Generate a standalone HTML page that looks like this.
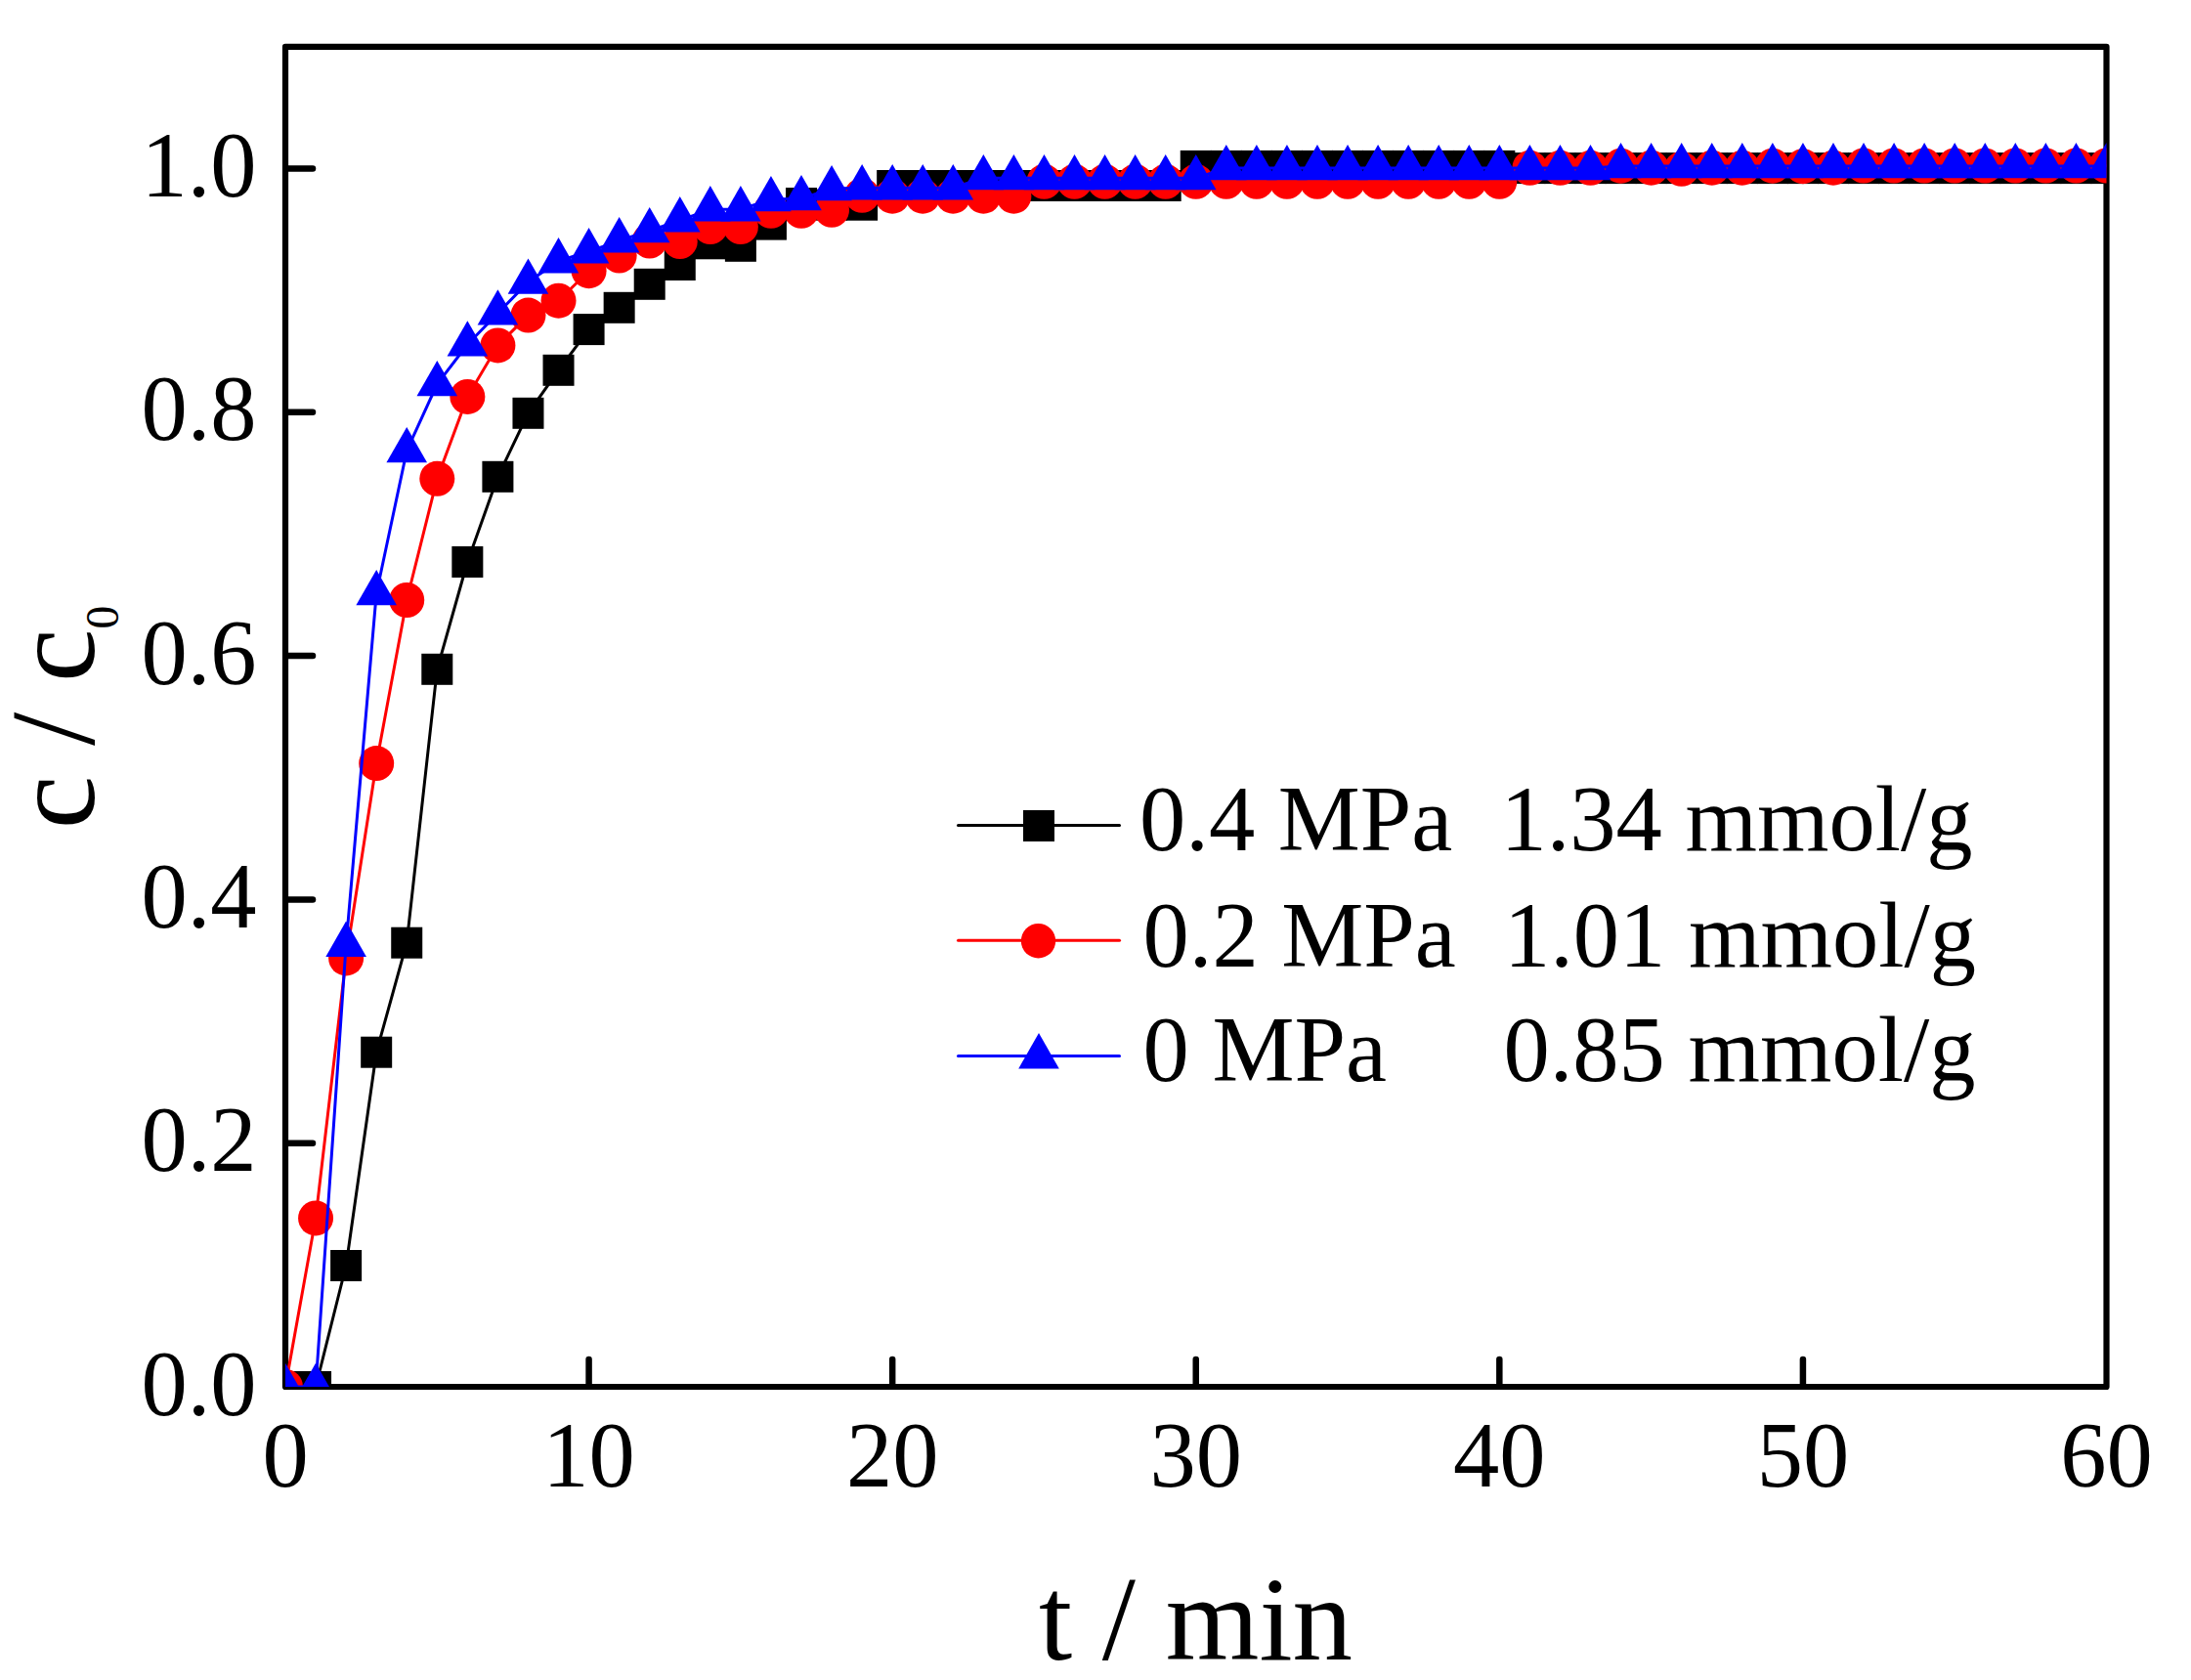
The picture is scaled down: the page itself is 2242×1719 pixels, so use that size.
<!DOCTYPE html>
<html lang="en">
<head>
<meta charset="utf-8">
<title>Breakthrough curves c / c0 versus t / min</title>
<style>
html,body{margin:0;padding:0;background:#fff;}
body{width:2242px;height:1719px;overflow:hidden;}
svg{display:block;}
text{font-family:"Liberation Serif",serif;fill:#000;}
</style>
</head>
<body>
<svg width="2242" height="1719" viewBox="0 0 2242 1719">
<defs><clipPath id="ax"><rect x="292" y="47.85" width="1863.5" height="1371.15"/></clipPath></defs>
<rect x="0" y="0" width="2242" height="1719" fill="#fff"/>
<rect x="292" y="47.85" width="1863.5" height="1371.15" fill="none" stroke="#000" stroke-width="6.2" stroke-linejoin="round"/>
<g stroke="#000" stroke-width="6.5" stroke-linecap="round">
<line x1="292.5" y1="1169.7" x2="320" y2="1169.7"/>
<line x1="292.5" y1="920.4" x2="320" y2="920.4"/>
<line x1="292.5" y1="671.1" x2="320" y2="671.1"/>
<line x1="292.5" y1="421.8" x2="320" y2="421.8"/>
<line x1="292.5" y1="172.5" x2="320" y2="172.5"/>
<line x1="602.58" y1="1418.5" x2="602.58" y2="1391"/>
<line x1="913.17" y1="1418.5" x2="913.17" y2="1391"/>
<line x1="1223.75" y1="1418.5" x2="1223.75" y2="1391"/>
<line x1="1534.33" y1="1418.5" x2="1534.33" y2="1391"/>
<line x1="1844.92" y1="1418.5" x2="1844.92" y2="1391"/>
</g>
<g clip-path="url(#ax)">
<polyline fill="none" stroke="#000" stroke-width="3.0" stroke-linejoin="round" points="292,1419 323.06,1419 354.12,1295 385.18,1076.7 416.23,964.7 447.29,684.8 478.35,575 509.41,487.8 540.47,422.8 571.52,378.8 602.58,337.1 633.64,314.8 664.7,290.8 695.76,271 726.82,249.3 757.88,251.8 788.93,229.6 819.99,208 851.05,209.7 882.11,209.7 913.17,190 944.23,190 975.28,190 1006.34,190 1037.4,190 1068.46,190 1099.52,190 1130.58,190 1161.63,190 1192.69,190 1223.75,169.9 1254.81,169.9 1285.87,169.9 1316.92,169.9 1347.98,169.9 1379.04,169.9 1410.1,169.9 1441.16,169.9 1472.22,169.9 1503.28,169.9 1534.33,169.9 1565.39,172.1 1596.45,172.1 1627.51,172.1 1658.57,172.1 1689.62,172.1 1720.68,172.1 1751.74,172.1 1782.8,172.1 1813.86,172.1 1844.92,172.1 1875.97,172.1 1907.03,172.1 1938.09,172.1 1969.15,172.1 2000.21,172.1 2031.27,172.1 2062.32,172.1 2093.38,172.1 2124.44,172.1 2155.5,172.1"/>
<g fill="#000">
<rect x="276" y="1403" width="32" height="32"/>
<rect x="307.06" y="1403" width="32" height="32"/>
<rect x="338.12" y="1279" width="32" height="32"/>
<rect x="369.18" y="1060.7" width="32" height="32"/>
<rect x="400.23" y="948.7" width="32" height="32"/>
<rect x="431.29" y="668.8" width="32" height="32"/>
<rect x="462.35" y="559" width="32" height="32"/>
<rect x="493.41" y="471.8" width="32" height="32"/>
<rect x="524.47" y="406.8" width="32" height="32"/>
<rect x="555.52" y="362.8" width="32" height="32"/>
<rect x="586.58" y="321.1" width="32" height="32"/>
<rect x="617.64" y="298.8" width="32" height="32"/>
<rect x="648.7" y="274.8" width="32" height="32"/>
<rect x="679.76" y="255" width="32" height="32"/>
<rect x="710.82" y="233.3" width="32" height="32"/>
<rect x="741.88" y="235.8" width="32" height="32"/>
<rect x="772.93" y="213.6" width="32" height="32"/>
<rect x="803.99" y="192" width="32" height="32"/>
<rect x="835.05" y="193.7" width="32" height="32"/>
<rect x="866.11" y="193.7" width="32" height="32"/>
<rect x="897.17" y="174" width="32" height="32"/>
<rect x="928.23" y="174" width="32" height="32"/>
<rect x="959.28" y="174" width="32" height="32"/>
<rect x="990.34" y="174" width="32" height="32"/>
<rect x="1021.4" y="174" width="32" height="32"/>
<rect x="1052.46" y="174" width="32" height="32"/>
<rect x="1083.52" y="174" width="32" height="32"/>
<rect x="1114.58" y="174" width="32" height="32"/>
<rect x="1145.63" y="174" width="32" height="32"/>
<rect x="1176.69" y="174" width="32" height="32"/>
<rect x="1207.75" y="153.9" width="32" height="32"/>
<rect x="1238.81" y="153.9" width="32" height="32"/>
<rect x="1269.87" y="153.9" width="32" height="32"/>
<rect x="1300.92" y="153.9" width="32" height="32"/>
<rect x="1331.98" y="153.9" width="32" height="32"/>
<rect x="1363.04" y="153.9" width="32" height="32"/>
<rect x="1394.1" y="153.9" width="32" height="32"/>
<rect x="1425.16" y="153.9" width="32" height="32"/>
<rect x="1456.22" y="153.9" width="32" height="32"/>
<rect x="1487.28" y="153.9" width="32" height="32"/>
<rect x="1518.33" y="153.9" width="32" height="32"/>
<rect x="1549.39" y="156.1" width="32" height="32"/>
<rect x="1580.45" y="156.1" width="32" height="32"/>
<rect x="1611.51" y="156.1" width="32" height="32"/>
<rect x="1642.57" y="156.1" width="32" height="32"/>
<rect x="1673.62" y="156.1" width="32" height="32"/>
<rect x="1704.68" y="156.1" width="32" height="32"/>
<rect x="1735.74" y="156.1" width="32" height="32"/>
<rect x="1766.8" y="156.1" width="32" height="32"/>
<rect x="1797.86" y="156.1" width="32" height="32"/>
<rect x="1828.92" y="156.1" width="32" height="32"/>
<rect x="1859.97" y="156.1" width="32" height="32"/>
<rect x="1891.03" y="156.1" width="32" height="32"/>
<rect x="1922.09" y="156.1" width="32" height="32"/>
<rect x="1953.15" y="156.1" width="32" height="32"/>
<rect x="1984.21" y="156.1" width="32" height="32"/>
<rect x="2015.27" y="156.1" width="32" height="32"/>
<rect x="2046.32" y="156.1" width="32" height="32"/>
<rect x="2077.38" y="156.1" width="32" height="32"/>
<rect x="2108.44" y="156.1" width="32" height="32"/>
<rect x="2139.5" y="156.1" width="32" height="32"/>
</g>
<polyline fill="none" stroke="#f00" stroke-width="3.0" stroke-linejoin="round" points="292,1419 323.06,1246.4 354.12,980.4 385.18,781.1 416.23,614 447.29,489.8 478.35,405.9 509.41,353.4 540.47,322.6 571.52,307.7 602.58,277.2 633.64,261.6 664.7,246.5 695.76,247 726.82,232 757.88,232 788.93,215.8 819.99,215.8 851.05,214.8 882.11,199.8 913.17,200.7 944.23,200.7 975.28,200.7 1006.34,200.7 1037.4,200.7 1068.46,185.8 1099.52,185.8 1130.58,185.8 1161.63,185.8 1192.69,185.8 1223.75,185.8 1254.81,185.8 1285.87,185.8 1316.92,185.8 1347.98,185.8 1379.04,185.8 1410.1,185.8 1441.16,185.8 1472.22,185.8 1503.28,185.8 1534.33,185.8 1565.39,171.8 1596.45,171.8 1627.51,171.8 1658.57,169.7 1689.62,171.7 1720.68,172.8 1751.74,171.7 1782.8,171.7 1813.86,169.7 1844.92,170.2 1875.97,171.7 1907.03,169.5 1938.09,169.5 1969.15,169.5 2000.21,169.5 2031.27,169.5 2062.32,169.5 2093.38,169.5 2124.44,169.5 2155.5,169.5"/>
<g fill="#f00">
<circle cx="292" cy="1419" r="18"/>
<circle cx="323.06" cy="1246.4" r="18"/>
<circle cx="354.12" cy="980.4" r="18"/>
<circle cx="385.18" cy="781.1" r="18"/>
<circle cx="416.23" cy="614" r="18"/>
<circle cx="447.29" cy="489.8" r="18"/>
<circle cx="478.35" cy="405.9" r="18"/>
<circle cx="509.41" cy="353.4" r="18"/>
<circle cx="540.47" cy="322.6" r="18"/>
<circle cx="571.52" cy="307.7" r="18"/>
<circle cx="602.58" cy="277.2" r="18"/>
<circle cx="633.64" cy="261.6" r="18"/>
<circle cx="664.7" cy="246.5" r="18"/>
<circle cx="695.76" cy="247" r="18"/>
<circle cx="726.82" cy="232" r="18"/>
<circle cx="757.88" cy="232" r="18"/>
<circle cx="788.93" cy="215.8" r="18"/>
<circle cx="819.99" cy="215.8" r="18"/>
<circle cx="851.05" cy="214.8" r="18"/>
<circle cx="882.11" cy="199.8" r="18"/>
<circle cx="913.17" cy="200.7" r="18"/>
<circle cx="944.23" cy="200.7" r="18"/>
<circle cx="975.28" cy="200.7" r="18"/>
<circle cx="1006.34" cy="200.7" r="18"/>
<circle cx="1037.4" cy="200.7" r="18"/>
<circle cx="1068.46" cy="185.8" r="18"/>
<circle cx="1099.52" cy="185.8" r="18"/>
<circle cx="1130.58" cy="185.8" r="18"/>
<circle cx="1161.63" cy="185.8" r="18"/>
<circle cx="1192.69" cy="185.8" r="18"/>
<circle cx="1223.75" cy="185.8" r="18"/>
<circle cx="1254.81" cy="185.8" r="18"/>
<circle cx="1285.87" cy="185.8" r="18"/>
<circle cx="1316.92" cy="185.8" r="18"/>
<circle cx="1347.98" cy="185.8" r="18"/>
<circle cx="1379.04" cy="185.8" r="18"/>
<circle cx="1410.1" cy="185.8" r="18"/>
<circle cx="1441.16" cy="185.8" r="18"/>
<circle cx="1472.22" cy="185.8" r="18"/>
<circle cx="1503.28" cy="185.8" r="18"/>
<circle cx="1534.33" cy="185.8" r="18"/>
<circle cx="1565.39" cy="171.8" r="18"/>
<circle cx="1596.45" cy="171.8" r="18"/>
<circle cx="1627.51" cy="171.8" r="18"/>
<circle cx="1658.57" cy="169.7" r="18"/>
<circle cx="1689.62" cy="171.7" r="18"/>
<circle cx="1720.68" cy="172.8" r="18"/>
<circle cx="1751.74" cy="171.7" r="18"/>
<circle cx="1782.8" cy="171.7" r="18"/>
<circle cx="1813.86" cy="169.7" r="18"/>
<circle cx="1844.92" cy="170.2" r="18"/>
<circle cx="1875.97" cy="171.7" r="18"/>
<circle cx="1907.03" cy="169.5" r="18"/>
<circle cx="1938.09" cy="169.5" r="18"/>
<circle cx="1969.15" cy="169.5" r="18"/>
<circle cx="2000.21" cy="169.5" r="18"/>
<circle cx="2031.27" cy="169.5" r="18"/>
<circle cx="2062.32" cy="169.5" r="18"/>
<circle cx="2093.38" cy="169.5" r="18"/>
<circle cx="2124.44" cy="169.5" r="18"/>
<circle cx="2155.5" cy="169.5" r="18"/>
</g>
<polyline fill="none" stroke="#00f" stroke-width="3.0" stroke-linejoin="round" points="292,1419 323.06,1419 354.12,966.8 385.18,607.2 416.23,461.2 447.29,393.2 478.35,352.5 509.41,320.5 540.47,288.6 571.52,267.3 602.58,257.3 633.64,246.3 664.7,236.1 695.76,225.3 726.82,214.3 757.88,214.3 788.93,204.1 819.99,203.2 851.05,193.1 882.11,192.3 913.17,192.3 944.23,192.3 975.28,192.3 1006.34,182.2 1037.4,182.2 1068.46,182.2 1099.52,182.2 1130.58,182.2 1161.63,182.2 1192.69,182.2 1223.75,182.2 1254.81,172.1 1285.87,172.1 1316.92,172.1 1347.98,172.1 1379.04,172.1 1410.1,172.1 1441.16,172.1 1472.22,172.1 1503.28,172.1 1534.33,172.1 1565.39,172.1 1596.45,172.1 1627.51,172.1 1658.57,170.1 1689.62,170.1 1720.68,170.1 1751.74,170.1 1782.8,170.1 1813.86,170.1 1844.92,170.1 1875.97,170.1 1907.03,170.1 1938.09,170.1 1969.15,170.1 2000.21,170.1 2031.27,170.1 2062.32,170.1 2093.38,170.1 2124.44,170.1 2155.5,170.1"/>
<g fill="#00f">
<polygon points="292,1394.8 312.8,1431.1 271.2,1431.1"/>
<polygon points="323.06,1394.8 343.86,1431.1 302.26,1431.1"/>
<polygon points="354.12,942.6 374.92,978.9 333.32,978.9"/>
<polygon points="385.18,583 405.98,619.3 364.38,619.3"/>
<polygon points="416.23,437 437.03,473.3 395.43,473.3"/>
<polygon points="447.29,369 468.09,405.3 426.49,405.3"/>
<polygon points="478.35,328.3 499.15,364.6 457.55,364.6"/>
<polygon points="509.41,296.3 530.21,332.6 488.61,332.6"/>
<polygon points="540.47,264.4 561.27,300.7 519.67,300.7"/>
<polygon points="571.52,243.1 592.32,279.4 550.73,279.4"/>
<polygon points="602.58,233.1 623.38,269.4 581.78,269.4"/>
<polygon points="633.64,222.1 654.44,258.4 612.84,258.4"/>
<polygon points="664.7,211.9 685.5,248.2 643.9,248.2"/>
<polygon points="695.76,201.1 716.56,237.4 674.96,237.4"/>
<polygon points="726.82,190.1 747.62,226.4 706.02,226.4"/>
<polygon points="757.88,190.1 778.67,226.4 737.08,226.4"/>
<polygon points="788.93,179.9 809.73,216.2 768.13,216.2"/>
<polygon points="819.99,179 840.79,215.3 799.19,215.3"/>
<polygon points="851.05,168.9 871.85,205.2 830.25,205.2"/>
<polygon points="882.11,168.1 902.91,204.4 861.31,204.4"/>
<polygon points="913.17,168.1 933.97,204.4 892.37,204.4"/>
<polygon points="944.23,168.1 965.02,204.4 923.43,204.4"/>
<polygon points="975.28,168.1 996.08,204.4 954.48,204.4"/>
<polygon points="1006.34,158 1027.14,194.3 985.54,194.3"/>
<polygon points="1037.4,158 1058.2,194.3 1016.6,194.3"/>
<polygon points="1068.46,158 1089.26,194.3 1047.66,194.3"/>
<polygon points="1099.52,158 1120.32,194.3 1078.72,194.3"/>
<polygon points="1130.58,158 1151.38,194.3 1109.78,194.3"/>
<polygon points="1161.63,158 1182.43,194.3 1140.83,194.3"/>
<polygon points="1192.69,158 1213.49,194.3 1171.89,194.3"/>
<polygon points="1223.75,158 1244.55,194.3 1202.95,194.3"/>
<polygon points="1254.81,147.9 1275.61,184.2 1234.01,184.2"/>
<polygon points="1285.87,147.9 1306.67,184.2 1265.07,184.2"/>
<polygon points="1316.92,147.9 1337.72,184.2 1296.12,184.2"/>
<polygon points="1347.98,147.9 1368.78,184.2 1327.18,184.2"/>
<polygon points="1379.04,147.9 1399.84,184.2 1358.24,184.2"/>
<polygon points="1410.1,147.9 1430.9,184.2 1389.3,184.2"/>
<polygon points="1441.16,147.9 1461.96,184.2 1420.36,184.2"/>
<polygon points="1472.22,147.9 1493.02,184.2 1451.42,184.2"/>
<polygon points="1503.28,147.9 1524.08,184.2 1482.48,184.2"/>
<polygon points="1534.33,147.9 1555.13,184.2 1513.53,184.2"/>
<polygon points="1565.39,147.9 1586.19,184.2 1544.59,184.2"/>
<polygon points="1596.45,147.9 1617.25,184.2 1575.65,184.2"/>
<polygon points="1627.51,147.9 1648.31,184.2 1606.71,184.2"/>
<polygon points="1658.57,145.9 1679.37,182.2 1637.77,182.2"/>
<polygon points="1689.62,145.9 1710.42,182.2 1668.83,182.2"/>
<polygon points="1720.68,145.9 1741.48,182.2 1699.88,182.2"/>
<polygon points="1751.74,145.9 1772.54,182.2 1730.94,182.2"/>
<polygon points="1782.8,145.9 1803.6,182.2 1762,182.2"/>
<polygon points="1813.86,145.9 1834.66,182.2 1793.06,182.2"/>
<polygon points="1844.92,145.9 1865.72,182.2 1824.12,182.2"/>
<polygon points="1875.97,145.9 1896.77,182.2 1855.17,182.2"/>
<polygon points="1907.03,145.9 1927.83,182.2 1886.23,182.2"/>
<polygon points="1938.09,145.9 1958.89,182.2 1917.29,182.2"/>
<polygon points="1969.15,145.9 1989.95,182.2 1948.35,182.2"/>
<polygon points="2000.21,145.9 2021.01,182.2 1979.41,182.2"/>
<polygon points="2031.27,145.9 2052.07,182.2 2010.47,182.2"/>
<polygon points="2062.32,145.9 2083.12,182.2 2041.52,182.2"/>
<polygon points="2093.38,145.9 2114.18,182.2 2072.58,182.2"/>
<polygon points="2124.44,145.9 2145.24,182.2 2103.64,182.2"/>
<polygon points="2155.5,145.9 2176.3,182.2 2134.7,182.2"/>
</g>
</g>
<g font-size="94.5" text-anchor="end">
<text x="262.5" y="1447.5">0.0</text>
<text x="262.5" y="1198.2">0.2</text>
<text x="262.5" y="948.9">0.4</text>
<text x="262.5" y="699.6">0.6</text>
<text x="262.5" y="450.3">0.8</text>
<text x="262.5" y="201">1.0</text>
</g>
<g font-size="94.5" text-anchor="middle">
<text x="292" y="1520.5">0</text>
<text x="602.58" y="1520.5">10</text>
<text x="913.17" y="1520.5">20</text>
<text x="1223.75" y="1520.5">30</text>
<text x="1534.33" y="1520.5">40</text>
<text x="1844.92" y="1520.5">50</text>
<text x="2155.5" y="1520.5">60</text>
</g>
<text x="1223.5" y="1697.5" font-size="123" text-anchor="middle" xml:space="preserve">t / min</text>
<text transform="translate(96,848.3) rotate(-90)" font-size="123" xml:space="preserve">c / c<tspan font-size="47.5" dy="25">0</tspan></text>
<line x1="980.5" y1="844.5" x2="1145.5" y2="844.5" stroke="#000" stroke-width="3" stroke-linecap="round"/>
<rect x="1047" y="829" width="32" height="32" fill="#000"/>
<text x="1166" y="869.5" font-size="94.5">0.4 MPa</text>
<text x="2018.5" y="869.5" font-size="94.5" text-anchor="end">1.34 mmol/g</text>
<line x1="980.5" y1="962.3" x2="1145.5" y2="962.3" stroke="#f00" stroke-width="3" stroke-linecap="round"/>
<circle cx="1062.5" cy="962.7" r="17.7" fill="#f00"/>
<text x="1169.5" y="988.5" font-size="94.5">0.2 MPa</text>
<text x="2022" y="988.5" font-size="94.5" text-anchor="end">1.01 mmol/g</text>
<line x1="980.5" y1="1080.5" x2="1145.5" y2="1080.5" stroke="#00f" stroke-width="3" stroke-linecap="round"/>
<polygon points="1063,1057.1 1083.8,1093.4 1042.2,1093.4" fill="#00f"/>
<text x="1169.5" y="1105.7" font-size="94.5">0 MPa</text>
<text x="2021.5" y="1105.7" font-size="94.5" text-anchor="end">0.85 mmol/g</text>
</svg>
</body>
</html>
